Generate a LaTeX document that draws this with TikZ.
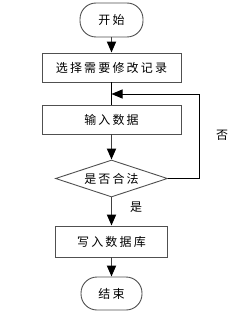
\documentclass[tikz,border=0pt]{standalone}
\usepackage{fontspec}
\usetikzlibrary{arrows.meta,shapes.geometric}
\newfontfamily\cjk[LetterSpace=18]{Noto Sans CJK SC}
\definecolor{flow-line}{RGB}{64,64,64}
\definecolor{flow-edge}{RGB}{80,80,80}

\tikzset{
    flowbox/.style={draw=flow-edge, line width=0.9pt, inner sep=0pt, font=\cjk\fontsize{12}{14}\selectfont},
    termbox/.style={flowbox, rounded corners=16pt},
    testbox/.style={flowbox, diamond, aspect=3},
    flowarrow/.style={draw=flow-line, line width=1.8pt, -{Triangle[length=11pt,width=9pt,color=black]}},
    backarrow/.style={draw=black, line width=0.9pt, -{Triangle[length=11pt,width=9pt,color=black]}},
}

\begin{document}
\begin{tikzpicture}[x=1pt, y=-1pt]
    \useasboundingbox (0,0) rectangle (250,318);

    \node[termbox, minimum width=63pt, minimum height=34pt] (start) at (111.5,20) {开始};
    \node[flowbox, minimum width=139pt, minimum height=29pt] (select) at (111.5,67.5) {选择需要修改记录};
    \node[flowbox, minimum width=139pt, minimum height=29pt] (input) at (111.5,119.5) {输入数据};
    \node[testbox, minimum width=112pt, minimum height=37pt] (check) at (111.5,178.5) {是否合法};
    \node[flowbox, minimum width=112pt, minimum height=31pt] (write) at (111.5,241.5) {写入数据库};
    \node[termbox, minimum width=61pt, minimum height=33pt] (finish) at (111.5,293.5) {结束};

    \coordinate (back) at (111.5,94);

    \draw[flowarrow] (start) -- (select);
    \draw[draw=black, line width=0.9pt] (select) -- (input);
    \draw[flowarrow] (input) -- (check);
    \draw[flowarrow] (check) -- (write);
    \draw[flowarrow] (write) -- (finish);
    \draw[backarrow] (check.east) -- ++(31,0) |- (back);

    \node[font=\cjk\fontsize{12}{14}\selectfont] (no) at (222,135) {否};
    \node[font=\cjk\fontsize{12}{14}\selectfont] (yes) at (136,207) {是};
\end{tikzpicture}
\end{document}
